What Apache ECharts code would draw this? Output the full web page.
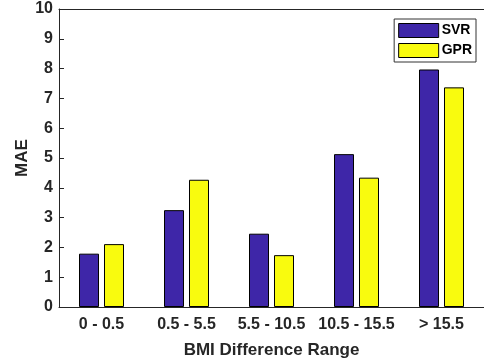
<!DOCTYPE html>
<html><head><meta charset="utf-8">
<script src="https://cdn.jsdelivr.net/npm/echarts@6/dist/echarts.min.js"></script>
<style>html,body{margin:0;padding:0;background:#fff}#c{width:484px;height:364px}</style>
</head><body><div id="c"></div>
<script>
const categories = ['0 - 0.5', '0.5 - 5.5', '5.5 - 10.5', '10.5 - 15.5', '> 15.5'];
const svr = [1.79, 3.25, 2.46, 5.13, 7.97];
const gpr = [2.11, 4.27, 1.74, 4.34, 7.37];
const yTicks = [0, 1, 2, 3, 4, 5, 6, 7, 8, 9, 10];

const font = 'Liberation Sans, Arial, sans-serif';
const txt = '#262626';
const axisCol = '#262626';
const chart = echarts.init(document.getElementById('c'));
chart.setOption({
  backgroundColor: '#fff',
  animation: false,
  textStyle: {fontFamily: font},
  grid: {left: 59, top: 9, bottom: 57, right: -7, containLabel: false},
  legend: {
    right: 8, top: 19,
    orient: 'vertical',
    itemWidth: 40, itemHeight: 14, itemGap: 5,
    padding: [4, 4, 4, 4],
    borderColor: '#333', borderWidth: 1, backgroundColor: '#fff',
    textStyle: {fontFamily: font, fontWeight: 'bold', fontSize: 14, color: '#000', padding: [0, 0, 0, -2]},
    data: [
      {name: 'SVR', icon: 'rect', itemStyle: {color: '#3E26A8', borderColor: '#000', borderWidth: 1}},
      {name: 'GPR', icon: 'rect', itemStyle: {color: '#F9FB0E', borderColor: '#000', borderWidth: 1}}
    ]
  },
  xAxis: [{
    type: 'category', data: categories, position: 'bottom',
    name: 'BMI Difference Range', nameLocation: 'middle', nameGap: 35, nameMoveOverlap: false,
    nameTextStyle: {fontFamily: font, fontWeight: 'bold', fontSize: 17, color: txt},
    axisLine: {lineStyle: {color: axisCol, width: 1}},
    axisTick: {inside: true, alignWithLabel: true, length: 5, lineStyle: {color: axisCol}},
    axisLabel: {interval: 0, fontFamily: font, fontWeight: 'bold', fontSize: 16, color: txt, margin: 10}
  }, {
    type: 'category', data: categories, position: 'top',
    axisLine: {lineStyle: {color: axisCol, width: 1}},
    axisTick: {inside: true, alignWithLabel: true, length: 5, lineStyle: {color: axisCol}},
    axisLabel: {show: false}
  }],
  yAxis: {
    type: 'value', min: 0, max: 10, interval: 1,
    name: 'MAE', nameLocation: 'middle', nameGap: 28, nameRotate: 90, nameMoveOverlap: false,
    nameTextStyle: {fontFamily: font, fontWeight: 'bold', fontSize: 17, color: txt},
    axisLine: {show: true, lineStyle: {color: axisCol, width: 1}},
    axisTick: {show: true, inside: true, length: 5, lineStyle: {color: axisCol}},
    splitLine: {show: false},
    axisLabel: {fontFamily: font, fontWeight: 'bold', fontSize: 16, color: txt, margin: 6,
      formatter: v => yTicks.includes(v) ? String(v) : ''}
  },
  series: [
    {name: 'SVR', type: 'bar', data: svr, barWidth: 20, barGap: '25%',
     itemStyle: {color: '#3E26A8', borderColor: '#000', borderWidth: 1}},
    {name: 'GPR', type: 'bar', data: gpr, barWidth: 20, barGap: '25%',
     itemStyle: {color: '#F9FB0E', borderColor: '#000', borderWidth: 1}}
  ]
});
</script></body></html>
